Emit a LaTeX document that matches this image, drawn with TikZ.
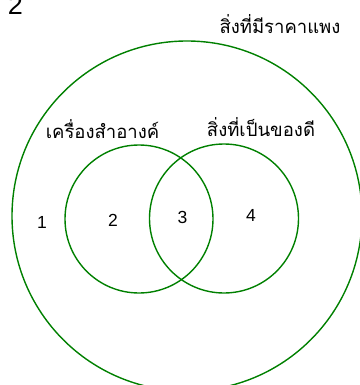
\documentclass[tikz,border=0pt]{standalone}
\usepackage{fontspec}
\setmainfont{Liberation Sans}
\newfontfamily\thaifont[Script=Thai]{Loma}
\usetikzlibrary{positioning}

\definecolor{setgreen}{RGB}{0,128,0}

\tikzset{
    setcircle/.style={draw=setgreen, line width=1.4pt, circle, inner sep=0pt},
    setlabel/.style={font=\thaifont\fontsize{18.5}{20}\selectfont, inner sep=0pt},
    regionnum/.style={font=\fontsize{17.5}{19}\selectfont, inner sep=0pt}
}

\begin{document}
\begin{tikzpicture}[x=1pt, y=-1pt]

    % กรอบของภาพ
    \useasboundingbox (0,0) rectangle (359,385);

    % วงกลมของเซต
    \node[setcircle, minimum size=350pt] (pricey) at (187,216) {};
    \node[setcircle, minimum size=148pt] (cosmetic) at (139,219) {};
    \node[setcircle, minimum size=149pt] (goodthing) at (224,218.5) {};

    % หมายเลขข้อ
    \node[font=\fontsize{27}{29}\selectfont, inner sep=0pt, anchor=base] (qnum) at (15.5,15) {2};

    % ชื่อของเซต
    \node[setlabel, anchor=base] (pricelabel) at (280,34) {สิ่งที่มีราคาแพง};
    \node[setlabel, anchor=base] (cosmlabel) at (102.5,139) {เครื่องสำอางค์};
    \node[setlabel, anchor=base] (goodlabel) at (261,136) {สิ่งที่เป็นของดี};

    % หมายเลขของบริเวณ
    \node[regionnum] (r1) at (42,222.5) {1};
    \node[regionnum] (r2) at (113,220.5) {2};
    \node[regionnum] (r3) at (182.5,217.5) {3};
    \node[regionnum] (r4) at (251,215) {4};

\end{tikzpicture}
\end{document}
